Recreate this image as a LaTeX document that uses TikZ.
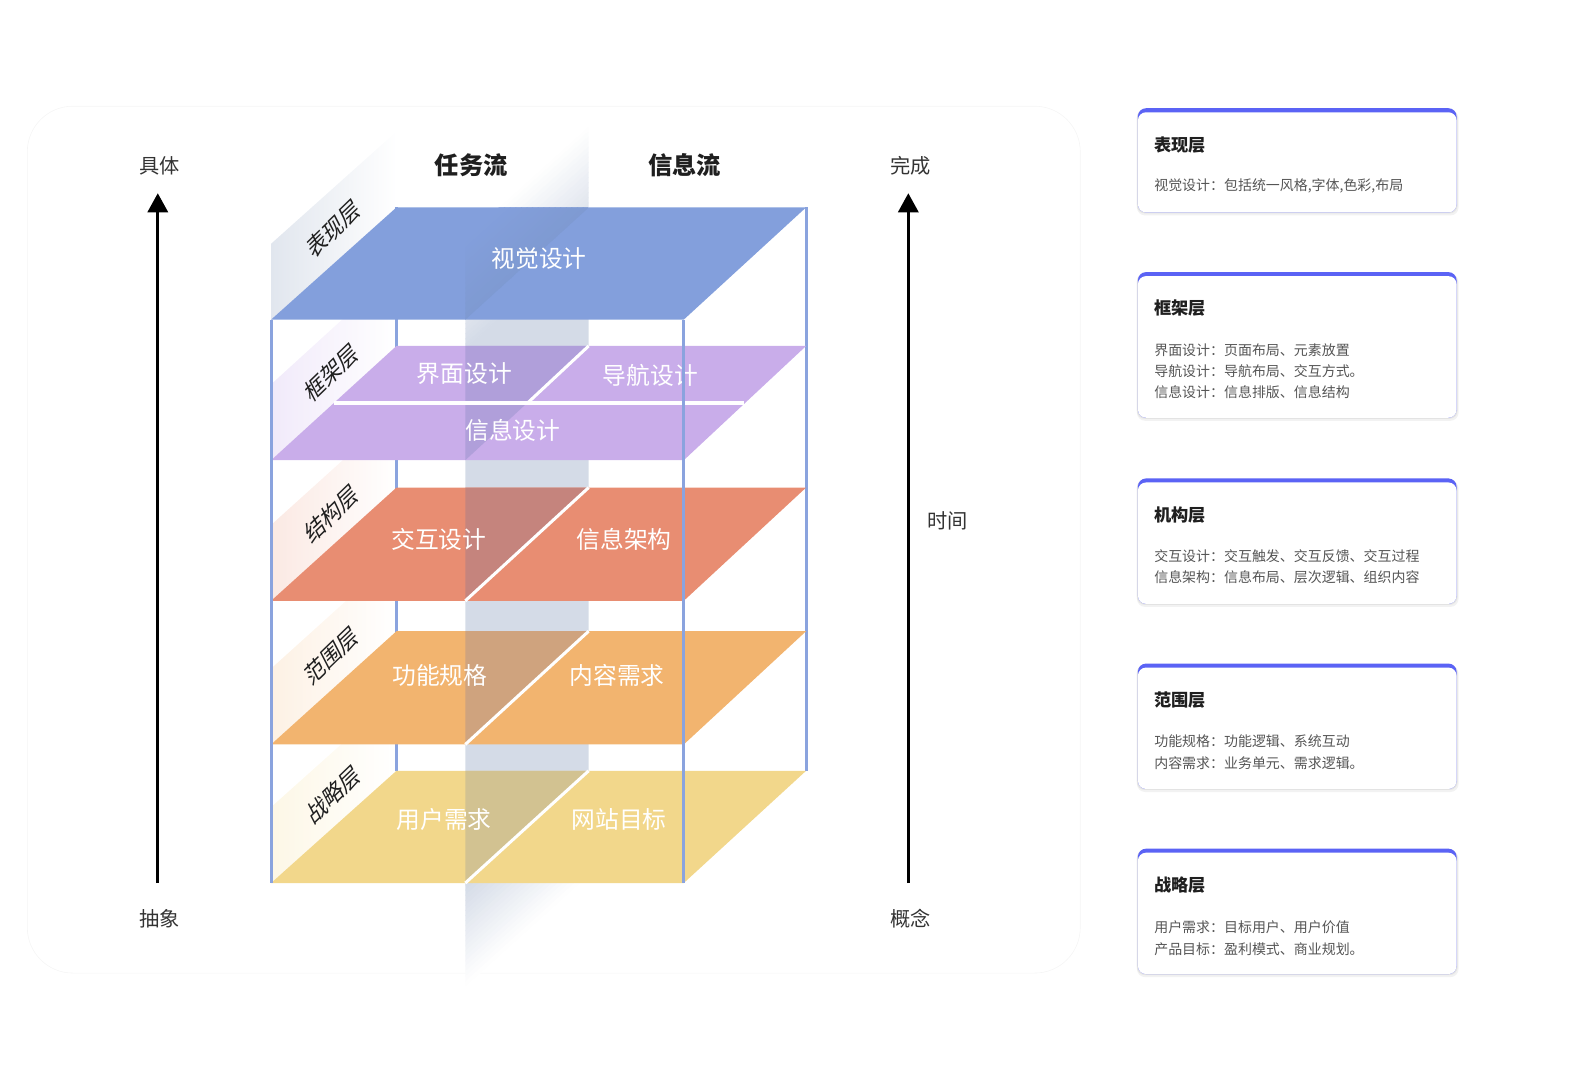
\documentclass[tikz,border=0pt]{standalone}
\usepackage{fontspec}
\setmainfont{Noto Sans CJK SC}
\usetikzlibrary{arrows.meta}
\definecolor{planeblue}{HTML}{839FDC}
\definecolor{planepurple}{HTML}{C9ADEA}
\definecolor{planered}{HTML}{E88D72}
\definecolor{planeorange}{HTML}{F2B46F}
\definecolor{planeyellow}{HTML}{F2D78B}
\definecolor{bandwhite}{HTML}{D4DBE7}
\definecolor{bandblue}{HTML}{7D98CE}
\definecolor{bandpurple}{HTML}{B09FDA}
\definecolor{bandred}{HTML}{C5847D}
\definecolor{bandorange}{HTML}{CFA37E}
\definecolor{bandyellow}{HTML}{D2C291}
\definecolor{framecol}{HTML}{8AA3DE}
\definecolor{cardtop}{HTML}{5B63F5}
\definecolor{axisgray}{HTML}{333333}
\definecolor{titlegray}{HTML}{1F1F1F}
\definecolor{bodygray}{HTML}{555555}
\definecolor{tintblue}{HTML}{E1E6EE}
\definecolor{tintpurple}{HTML}{F1EAFA}
\definecolor{tintred}{HTML}{FBE9E3}
\definecolor{tintorange}{HTML}{FDF1E4}
\definecolor{tintyellow}{HTML}{FDF7E6}
% band strip between heights v1 and v2 (front edge x=460, back edge x=582)
\newcommand{\bandstrip}[3]{%
  \fill[#3] (460,#1) -- (582,{#1-110}) -- (582,{#2-110}) -- (460,#2) -- cycle;}
\newcommand{\infocard}[4]{% top, bottom, title name, title text
  \fill[black!5, rounded corners=8] (1124,{#1+2}) rectangle (1442,{#2+3});
  \fill[black!11, rounded corners=8] (1124,{#1+1}) rectangle (1441,{#2+1});
  \fill[cardtop, rounded corners=8] (1125,#1) rectangle (1440,#2);
  \fill[white, rounded corners=8] (1125,{#1+4}) rectangle (1440,#2);
  \node[cardtitle] (#3) at (1141,{#1+36}) {#4};
}
\begin{document}
\begin{tikzpicture}[x=1pt,y=-1pt,
  planelabel/.style={text=white, font=\fontsize{23.5}{25}\selectfont, inner sep=0},
  axislabel/.style={text=axisgray, font=\fontsize{20}{22}\selectfont, inner sep=0},
  flowlabel/.style={text=titlegray, font=\fontsize{24}{26}\selectfont\bfseries, inner sep=0},
  walllabel/.style={text=titlegray, font=\fontsize{22}{24}\selectfont, inner sep=0, rotate=44, xslant=0.3},
  cardtitle/.style={anchor=west, font=\fontsize{17}{20}\selectfont\bfseries, text=titlegray, inner sep=0},
  cardbody/.style={anchor=west, font=\fontsize{13.8}{16}\selectfont, text=bodygray, inner sep=0},
  frameline/.style={draw=framecol, line width=3},
  sepline/.style={draw=white, line width=3},
  axisarrow/.style={line width=3, -{Triangle[length=19pt,width=20pt]}},
]
\useasboundingbox (0,0) rectangle (1568,1069);

% faint background panel
\draw[black!4, line width=0.6, rounded corners=45] (27,105) rectangle (1068,962);

% wall label panels
\shade[left color=tintblue, right color=white] (268,241) -- (392,130) -- (392,205) -- (268,316) -- cycle;
\shade[left color=tintpurple, right color=white] (268,380) -- (392,267) -- (392,342) -- (268,455) -- cycle;
\shade[left color=tintred, right color=white] (268,519) -- (392,407) -- (392,482) -- (268,594) -- cycle;
\shade[left color=tintorange, right color=white] (268,661) -- (392,549) -- (392,624) -- (268,736) -- cycle;
\shade[left color=tintyellow, right color=white] (268,798) -- (392,687) -- (392,762) -- (268,873) -- cycle;

% back frame lines
\draw[frameline] (392,205) -- (392,762);
\draw[frameline] (797,205) -- (797,762);

% flow band (vertical wall between task flow and info flow), behind the planes
\foreach \i in {0,...,21} {
  \pgfmathsetmacro\va{235+5*\i}
  \pgfmathsetmacro\vb{\va+5.6}
  \pgfmathtruncatemacro\p{100*(\i+0.5)/22}
  \bandstrip{\va}{\vb}{bandwhite!\p!white}
}
\bandstrip{345}{875.6}{bandwhite}
\foreach \i in {0,...,19} {
  \pgfmathsetmacro\va{875+5*\i}
  \pgfmathsetmacro\vb{\va+5.6}
  \pgfmathtruncatemacro\p{100-100*(\i+0.5)/20}
  \bandstrip{\va}{\vb}{bandwhite!\p!white}
}

% planes
\fill[planeblue] (392,205) -- (797,205) -- (676,316) -- (268,316) -- cycle;
\fill[planepurple] (392,342) -- (797,342) -- (676,455) -- (268,455) -- cycle;
\fill[planered] (392,482) -- (797,482) -- (676,594) -- (268,594) -- cycle;
\fill[planeorange] (392,624) -- (797,624) -- (676,736) -- (268,736) -- cycle;
\fill[planeyellow] (392,762) -- (797,762) -- (676,873) -- (268,873) -- cycle;

% part of the band standing above each plane
\begin{scope}
  \clip (460,205) -- (582,205) -- (460,316) -- cycle;
  \foreach \i in {0,...,21} {
    \pgfmathsetmacro\va{235+5*\i}
    \pgfmathsetmacro\vb{\va+5.6}
    \pgfmathtruncatemacro\p{100*(\i+0.5)/22}
    \bandstrip{\va}{\vb}{bandblue!\p!planeblue}
  }
  \bandstrip{345}{420}{bandblue}
\end{scope}
\fill[bandpurple] (460,342) -- (582,342) -- (460,455) -- cycle;
\fill[bandred] (460,482) -- (582,482) -- (460,594) -- cycle;
\fill[bandorange] (460,624) -- (582,624) -- (460,736) -- cycle;
\fill[bandyellow] (460,762) -- (582,762) -- (460,873) -- cycle;

% separators
\draw[sepline, line width=4] (330,398) -- (736,398);
\draw[sepline] (582,342) -- (522,398);
\draw[sepline] (582,482) -- (460,594);
\draw[sepline] (582,624) -- (460,736);
\draw[sepline] (582,762) -- (460,873);

% wall labels
\node[walllabel] (wl1) at (330,226) {表现层};
\node[walllabel] (wl2) at (328,368) {框架层};
\node[walllabel] (wl3) at (328,508) {结构层};
\node[walllabel] (wl4) at (328,648) {范围层};
\node[walllabel] (wl5) at (330,785) {战略层};

% plane labels
\node[planelabel] (p1) at (533,256) {视觉设计};
\node[planelabel] (p2a) at (459,369) {界面设计};
\node[planelabel] (p2b) at (643,371) {导航设计};
\node[planelabel] (p2c) at (507,425) {信息设计};
\node[planelabel] (p3a) at (434,533) {交互设计};
\node[planelabel] (p3b) at (617,533) {信息架构};
\node[planelabel] (p4a) at (435,668) {功能规格};
\node[planelabel] (p4b) at (610,668) {内容需求};
\node[planelabel] (p5a) at (439,810) {用户需求};
\node[planelabel] (p5b) at (612,810) {网站目标};

% front frame lines
\draw[frameline] (268,316) -- (268,873);
\draw[frameline] (676,316) -- (676,873);

% flow titles
\node[flowlabel] (task) at (466,163) {任务流};
\node[flowlabel] (info) at (677,163) {信息流};

% left axis
\node[axislabel] (concrete) at (158,164) {具体};
\node[axislabel] (abstract) at (158,908) {抽象};
\coordinate (la0) at (156,873);
\coordinate (la1) at (156,191);
\draw[axisarrow] (la0) -- (la1);

% right axis
\node[axislabel] (done) at (900,164) {完成};
\node[axislabel] (concept) at (900,908) {概念};
\node[axislabel] (time) at (937,515) {时间};
\coordinate (ra0) at (898,873);
\coordinate (ra1) at (898,191);
\draw[axisarrow] (ra0) -- (ra1);

% cards
\infocard{107}{210}{c1}{表现层}
\node[cardbody] (c1l1) at (1141,184) {视觉设计：包括统一风格,字体,色彩,布局};
\infocard{269}{413}{c2}{框架层}
\node[cardbody] (c2l1) at (1141,346) {界面设计：页面布局、元素放置};
\node[cardbody] (c2l2) at (1141,367) {导航设计：导航布局、交互方式。};
\node[cardbody] (c2l3) at (1141,388) {信息设计：信息排版、信息结构};
\infocard{473}{597}{c3}{机构层}
\node[cardbody] (c3l1) at (1141,550) {交互设计：交互触发、交互反馈、交互过程};
\node[cardbody] (c3l2) at (1141,571) {信息架构：信息布局、层次逻辑、组织内容};
\infocard{656}{780}{c4}{范围层}
\node[cardbody] (c4l1) at (1141,733) {功能规格：功能逻辑、系统互动};
\node[cardbody] (c4l2) at (1141,754) {内容需求：业务单元、需求逻辑。};
\infocard{839}{963}{c5}{战略层}
\node[cardbody] (c5l1) at (1141,917) {用户需求：目标用户、用户价值};
\node[cardbody] (c5l2) at (1141,938) {产品目标：盈利模式、商业规划。};
\end{tikzpicture}
\end{document}
